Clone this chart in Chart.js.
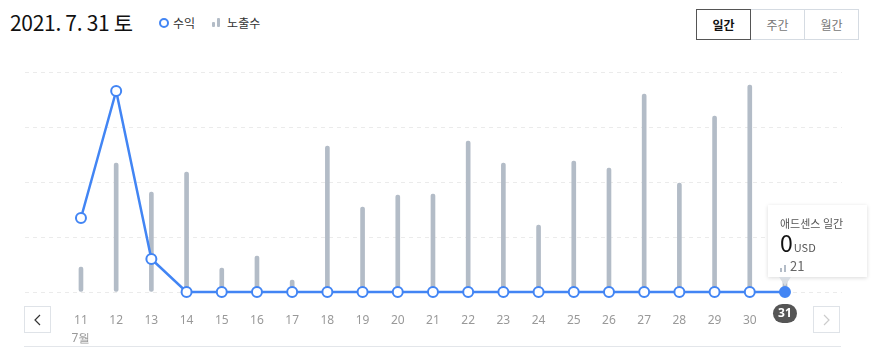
<!DOCTYPE html>
<html>
<head>
<meta charset="utf-8">
<script src="https://cdn.jsdelivr.net/npm/chart.js@4"></script>
<style>
  body { margin: 0; width: 872px; height: 349px; background: #fff; font-family: 'Noto Sans CJK KR', 'Noto Sans', sans-serif; position: relative; overflow: hidden; }
  .title { position: absolute; left: 10px; top: 7px; font-size: 21px; color: #111; letter-spacing: -0.3px; }
  .legend { position: absolute; left: 159px; top: 14px; font-size: 12px; color: #333; display: flex; align-items: center; }
  .legend .dot { width: 6px; height: 6px; border: 2px solid #4285f4; border-radius: 50%; margin-right: 4px; }
  .legend .bars { display: inline-flex; align-items: flex-end; margin: 0 5px 0 17px; }
  .legend .bars i { display: block; width: 3px; background: #b3bcc7; margin-right: 2px; border-radius: 1px; }
  .tabs { position: absolute; left: 697px; top: 9px; display: flex; }
  .tabs div { width: 53px; height: 29px; line-height: 29px; text-align: center; font-size: 12px; color: #777; border: 1px solid #d5dbe2; margin-left: -1px; }
  .tabs div.on { border-color: #555; color: #111; font-weight: bold; position: relative; z-index: 1; }
  .chartBox { position: absolute; left: 18px; top: 60px; width: 831px; height: 289px; }
  .nav { position: absolute; top: 306px; width: 27px; height: 27px; border: 1px solid #dfe3e8; box-sizing: border-box; background: #fff; }
  .nav svg { position: absolute; left: 8px; top: 7px; }
  .rule { position: absolute; left: 24px; top: 346px; width: 817px; height: 1px; background: #e3e6ea; }
  .tip { position: absolute; left: 768px; top: 205px; width: 99px; height: 72px; background: #fff; box-shadow: 0 1px 4px rgba(0,0,0,0.15); box-sizing: border-box; padding: 11px 0 0 12px; }
  .tip .h { font-size: 11px; color: #555; line-height: 14px; }
  .tip .v { font-size: 23px; color: #111; line-height: 23px; margin-top: 1px; }
  .tip .v span { font-size: 11px; color: #555; margin-left: 1px; }
  .tip .n { font-size: 13px; color: #666; display: flex; align-items: flex-end; line-height: 13px; margin-top: 0; }
  .tip .n i { display: block; width: 2px; background: #b3bcc7; margin-right: 2px; }
  .tip:after { content: ''; position: absolute; left: 11px; bottom: -9px; border: 6px solid transparent; border-bottom: 0; border-top: 9px solid #d8dde3; }
</style>
</head>
<body>
<div class="title">2021. 7. 31 토</div>
<div class="legend">
  <span class="dot"></span>수익
  <span class="bars"><i style="height:5px"></i><i style="height:9px"></i></span>노출수
</div>
<div class="tabs"><div class="on">일간</div><div>주간</div><div>월간</div></div>
<div class="chartBox"><canvas id="chart"></canvas></div>
<div class="nav" style="left:24px"><svg width="10" height="12"><polyline points="7,1 2,6 7,11" fill="none" stroke="#333" stroke-width="1.2"/></svg></div>
<div class="nav" style="left:813px"><svg width="10" height="12"><polyline points="2,1 7,6 2,11" fill="none" stroke="#ccc" stroke-width="1.2"/></svg></div>
<div class="rule"></div>
<div class="tip">
  <div class="h">애드센스 일간</div>
  <div class="v">0<span>USD</span></div>
  <div class="n"><i style="height:4px"></i><i style="height:7px;margin-right:4px"></i>21</div>
</div>
<script>
const days = [11, 12, 13, 14, 15, 16, 17, 18, 19, 20, 21, 22, 23, 24, 25, 26, 27, 28, 29, 30, 31];
const monthLabels = { 11: '7월' };
const impressions = [25, 129, 100, 120, 24, 36, 12, 146, 85, 97, 98, 151, 129, 67, 131, 124, 198, 109, 176, 207, 21];
const revenue = [0.74, 2.01, 0.33, 0, 0, 0, 0, 0, 0, 0, 0, 0, 0, 0, 0, 0, 0, 0, 0, 0, 0];
const selectedDay = 31;

const blue = '#4285f4';

// dark pill behind the selected day label
const pillPlugin = {
  id: 'pill',
  beforeDatasetsDraw(chart) {
    const x = chart.scales.x.getPixelForValue(selectedDay);
    const y = chart.chartArea.bottom + 21;
    const ctx = chart.ctx;
    ctx.save();
    ctx.fillStyle = '#555';
    ctx.beginPath();
    ctx.roundRect(x - 12, y - 9, 24, 19, 9.5);
    ctx.fill();
    ctx.fillStyle = '#fff';
    ctx.font = 'bold 12px "Noto Sans", sans-serif';
    ctx.textAlign = 'center';
    ctx.textBaseline = 'middle';
    ctx.fillText(String(selectedDay), x, y + 1);
    ctx.restore();
  }
};

new Chart(document.getElementById('chart'), {
  data: {
    datasets: [
      {
        type: 'line',
        data: days.map((d, i) => ({ x: d, y: revenue[i] })),
        yAxisID: 'y1',
        borderColor: blue,
        borderWidth: 2.5,
        tension: 0,
        pointRadius: 5,
        pointBorderWidth: 2,
        pointBackgroundColor: days.map(d => d === selectedDay ? blue : '#fff'),
        pointBorderColor: blue,
        clip: false,
        order: 0
      },
      {
        type: 'bar',
        data: days.map((d, i) => ({ x: d, y: impressions[i] })),
        yAxisID: 'y',
        backgroundColor: '#b3bcc7',
        barThickness: 4,
        borderRadius: 2,
        borderSkipped: false,
        order: 1
      }
    ]
  },
  options: {
    responsive: true,
    maintainAspectRatio: false,
    animation: false,
    layout: { padding: { top: 12, left: 0, right: 0, bottom: 0 } },
    plugins: { legend: { display: false }, tooltip: { enabled: false } },
    scales: {
      x: {
        type: 'linear',
        offset: false,
        min: 9.41,
        max: 32.62,
        grid: { display: false, offset: false },
        border: { display: false },
        afterBuildTicks: (scale) => { scale.ticks = days.map(d => ({ value: d })); },
        afterFit: (scale) => { scale.height = 57; },
        ticks: {
          padding: 12,
          autoSkip: false,
          maxRotation: 0,
          color: (c) => c.tick && c.tick.value === selectedDay ? 'rgba(0,0,0,0)' : '#999',
          font: { size: 12, family: '"Noto Sans", sans-serif', lineHeight: 1.5 },
          callback: (v) => monthLabels[v] ? [String(v), monthLabels[v]] : String(v)
        }
      },
      y: {
        min: 0,
        max: 220,
        ticks: { display: false, stepSize: 55 },
        afterFit: (scale) => { scale.width = 0; },
        border: { display: false, dash: [4, 4] },
        grid: { color: '#ebebeb', drawTicks: false }
      },
      y1: {
        display: false,
        min: 0,
        max: 2.2
      }
    }
  },
  plugins: [pillPlugin]
});
</script>
</body>
</html>
